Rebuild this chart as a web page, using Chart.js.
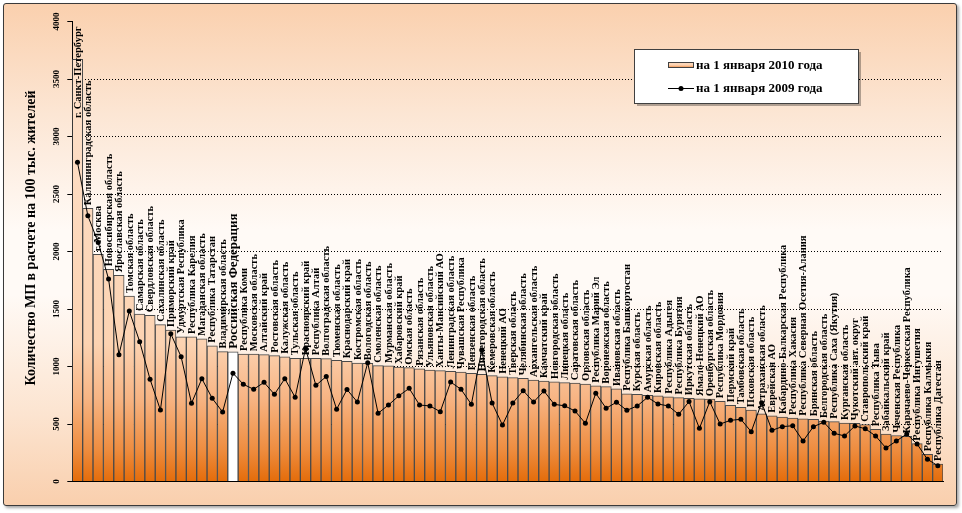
<!DOCTYPE html>
<html>
<head>
<meta charset="utf-8">
<title>МП на 100 тыс. жителей</title>
<script src="https://cdn.jsdelivr.net/npm/chart.js@4"></script>
<style>
  html, body { margin: 0; padding: 0; background: #fff; }
  #frame {
    position: absolute; left: 3px; top: 3px; width: 952px; height: 501px;
    border: 1px solid #3a3a3a; border-radius: 3px;
    background: linear-gradient(to bottom, #fad0ae 0%, #fce6d4 22%, #fffaf6 45%, #fffaf6 58%, #fce4d0 82%, #f9cfad 100%);
    box-shadow: 2px 2px 3px rgba(0, 0, 0, 0.35);
  }
  #wrap { position: absolute; left: 0; top: 0; width: 962px; height: 513px; }
</style>
</head>
<body>
<div id="frame"></div>
<div id="wrap"><canvas id="mpChart" width="962" height="513"></canvas></div>
<script>
/* global Chart */

let regions = [
  "г. Санкт-Петербург", "Калининградская область", "г. Москва", "Новосибирская область",
  "Ярославская область", "Томская область", "Самарская область", "Свердловская область",
  "Сахалинская область", "Приморский край", "Удмуртская Республика", "Республика Карелия",
  "Магаданская область", "Республика Татарстан", "Владимирская область", "Российская Федерация",
  "Республика Коми", "Московская область", "Алтайский край", "Ростовская область",
  "Калужская область", "Тульская область", "Красноярский край", "Республика Алтай",
  "Волгоградская область", "Тюменская область", "Краснодарский край", "Костромская область",
  "Вологодская область", "Смоленская область", "Мурманская область", "Хабаровский край",
  "Омская область", "Рязанская область", "Ульяновская область", "Ханты-Мансийский АО",
  "Ленинградская область", "Чувашская Республика", "Пензенская область", "Нижегородская область",
  "Кемеровская область", "Ненецкий АО", "Тверская область", "Челябинская область",
  "Архангельская область", "Камчатский край", "Новгородская область", "Липецкая область",
  "Саратовская область", "Орловская область", "Республика Марий Эл", "Воронежская область",
  "Ивановская область", "Республика Башкортостан", "Курская область", "Амурская область",
  "Кировская область", "Республика Адыгея", "Республика Бурятия", "Иркутская область",
  "Ямало-Ненецкий АО", "Оренбургская область", "Республика Мордовия", "Пермский край",
  "Тамбовская область", "Псковская область", "Астраханская область", "Еврейская АО",
  "Кабардино-Балкарская Республика", "Республика Хакасия", "Республика Северная Осетия-Алания", "Брянская область",
  "Белгородская область", "Республика Саха (Якутия)", "Курганская область", "Чукотский авт. округ",
  "Ставропольский край", "Республика Тыва", "Забайкальский край", "Чеченская Республика",
  "Карачаево-Черкесская Республика", "Республика Ингушетия", "Республика Калмыкия", "Республика Дагестан",
];

let on2010 = [
  3671, 2376, 1976, 1845, 1793, 1613, 1456, 1445, 1364, 1317, 1259, 1257,
  1240, 1180, 1130, 1128, 1109, 1107, 1103, 1094, 1085, 1071, 1071, 1071,
  1068, 1054, 1045, 1030, 1028, 1007, 1005, 995, 990, 980, 968, 964,
  958, 952, 941, 932, 920, 910, 903, 897, 882, 874, 866, 860,
  855, 848, 832, 825, 805, 762, 758, 750, 744, 737, 730, 724,
  718, 716, 697, 663, 645, 620, 588, 572, 561, 552, 546, 541,
  526, 520, 509, 506, 494, 454, 413, 400, 393, 329, 236, 152,
];

let on2009 = [
  2776, 2311, 2078, 1760, 1103, 1482, 1216, 889, 622, 1285, 1085, 680,
  894, 723, 604, 942, 845, 802, 862, 758, 894, 732, 1158, 836,
  913, 628, 800, 691, 1033, 593, 665, 745, 810, 665, 657, 607,
  865, 802, 671, 1143, 683, 491, 683, 790, 691, 787, 671, 658,
  613, 506, 767, 637, 689, 619, 657, 732, 674, 657, 584, 695,
  462, 694, 500, 532, 541, 433, 685, 445, 477, 485, 352, 477,
  515, 419, 396, 483, 459, 396, 291, 352, 413, 326, 193, 137,
];

let yTicks = [0, 500, 1000, 1500, 2000, 2500, 3000, 3500, 4000];

let seriesNames = ["на 1 января 2010 года", "на 1 января 2009 года"];
let axisTitle = "Количество МП в расчете на 100 тыс. жителей";
let totalName = "Российская Федерация";

function orangeGradient(ctx, top, bottom) {
  let g = ctx.createLinearGradient(0, top, 0, bottom);
  g.addColorStop(0, "#fde3cf");
  g.addColorStop(0.7, "#fcd3b2");
  g.addColorStop(0.82, "#f7b483");
  g.addColorStop(0.93, "#ee8d40");
  g.addColorStop(1, "#e46c0a");
  return g;
}

function barFill(context) {
  let chart = context.chart;
  let area = chart.chartArea;
  if (!area) return "#f9c090";
  if (regions[context.dataIndex] === totalName) return "#ffffff";
  return orangeGradient(chart.ctx, area.top, area.bottom);
}

// region names standing upright over each bar
let barLabels = {
  id: "barLabels",
  afterDatasetsDraw(chart) {
    let ctx = chart.ctx;
    let top = chart.chartArea.top;
    let meta = chart.getDatasetMeta(0);
    ctx.save();
    ctx.fillStyle = "#000";
    ctx.textBaseline = "middle";
    ctx.textAlign = "left";
    meta.data.forEach((bar, i) => {
      let name = regions[i];
      ctx.font = name === totalName ? "bold 13px 'Liberation Serif'" : "bold 10.5px 'Liberation Serif'";
      let w = ctx.measureText(name).width;
      let start = bar.y - 3;
      if (start - w < top + 2) start = top + 5 + w;
      ctx.save();
      ctx.translate(bar.x + 0.5, start);
      ctx.rotate(-Math.PI / 2);
      ctx.fillText(name, 0, 0);
      ctx.restore();
    });
    ctx.restore();
  },
};

// rotated tick numbers, axis title and the boxed legend
let extras = {
  id: "extras",
  afterDraw(chart) {
    let ctx = chart.ctx;
    let y = chart.scales.y;
    ctx.save();
    ctx.fillStyle = "#000";
    ctx.textAlign = "center";
    ctx.textBaseline = "middle";

    ctx.font = "bold 9px 'Liberation Serif'";
    yTicks.forEach((t) => {
      ctx.save();
      ctx.translate(57, y.getPixelForValue(t));
      ctx.rotate(-Math.PI / 2);
      ctx.fillText(String(t), 0, 0);
      ctx.restore();
    });

    ctx.font = "bold 14px 'Liberation Serif'";
    ctx.save();
    ctx.translate(31, 238);
    ctx.rotate(-Math.PI / 2);
    ctx.fillText(axisTitle, 0, 0);
    ctx.restore();

    // legend
    ctx.fillStyle = "rgba(0,0,0,0.3)";
    ctx.fillRect(637, 52, 224, 54);
    ctx.fillStyle = "#fff";
    ctx.fillRect(634.5, 49.5, 224, 54);
    ctx.strokeStyle = "#404040";
    ctx.lineWidth = 1;
    ctx.strokeRect(634.5, 49.5, 224, 54);

    ctx.fillStyle = orangeGradient(ctx, 58, 68);
    ctx.fillRect(668.5, 62.5, 25, 5);
    ctx.strokeStyle = "#404040";
    ctx.strokeRect(668.5, 62.5, 25, 5);

    ctx.strokeStyle = "#000";
    ctx.beginPath();
    ctx.moveTo(668, 88.5);
    ctx.lineTo(694, 88.5);
    ctx.stroke();
    ctx.fillStyle = "#000";
    ctx.beginPath();
    ctx.arc(681, 88.5, 2.5, 0, Math.PI * 2);
    ctx.fill();

    ctx.font = "bold 13px 'Liberation Serif'";
    ctx.textAlign = "left";
    ctx.fillText(seriesNames[0], 696, 65.5);
    ctx.fillText(seriesNames[1], 696, 89);
    ctx.restore();
  },
};

var ctx = document.getElementById("mpChart").getContext("2d");
var mpChart = new Chart(ctx, {
  type: "bar",
  data: {
    labels: regions,
    datasets: [
      {
        type: "bar",
        label: seriesNames[0],
        data: on2010,
        backgroundColor: barFill,
        borderColor: "#4a4a4a",
        borderWidth: 1,
        categoryPercentage: 1,
        barPercentage: 1,
        order: 2,
      },
      {
        type: "line",
        label: seriesNames[1],
        data: on2009,
        borderColor: "#000",
        borderWidth: 1,
        pointRadius: 2.5,
        pointBackgroundColor: "#000",
        pointBorderWidth: 0,
        tension: 0,
        order: 1,
      },
    ],
  },
  options: {
    responsive: false,
    animation: false,
    layout: { padding: { top: 21.5, right: 19, left: 0, bottom: 0 } },
    plugins: {
      legend: { display: false },
      tooltip: { enabled: false },
    },
    scales: {
      x: {
        grid: { display: false },
        ticks: { display: false },
        border: { color: "#000", width: 1 },
        afterFit(scale) {
          scale.height = 31.5;
        },
      },
      y: {
        min: 0,
        max: 4000,
        ticks: { display: false, stepSize: 500 },
        grid: {
          color: (c) => (c.tick && c.tick.value === 4000 ? "rgba(0,0,0,0)" : "#000"),
          lineWidth: 1,
          tickLength: 5,
          tickColor: "#000",
        },
        border: { color: "#000", width: 1, dash: [1, 2] },
        afterFit(scale) {
          scale.width = 72.3;
        },
      },
    },
  },
  plugins: [barLabels, extras],
});
</script>
</body>
</html>
